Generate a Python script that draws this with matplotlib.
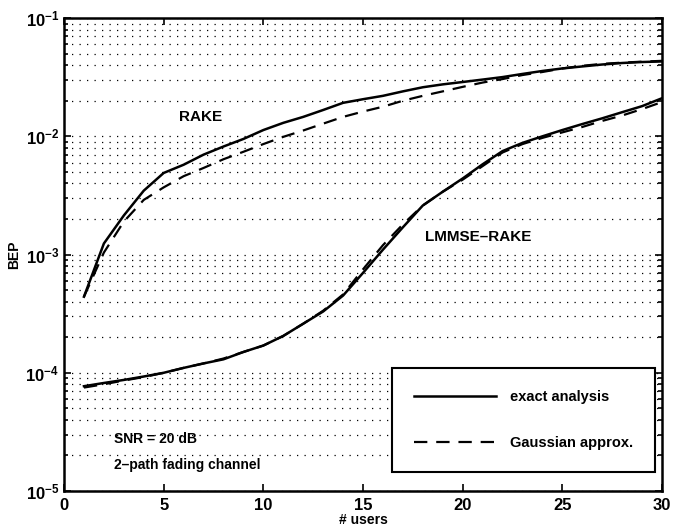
import numpy as np
import matplotlib
matplotlib.use('Agg')
from matplotlib import pyplot as plt
from matplotlib.ticker import LogLocator, MultipleLocator, NullFormatter

users = np.arange(1, 31)

# BEP, RAKE receiver
rake_exact = [4.4e-4, 1.24e-3, 2.14e-3, 3.47e-3, 4.9e-3, 5.75e-3, 7.0e-3, 8.2e-3, 9.5e-3, 1.13e-2,
              1.3e-2, 1.46e-2, 1.67e-2, 1.92e-2, 2.06e-2, 2.2e-2, 2.4e-2, 2.6e-2, 2.75e-2, 2.88e-2,
              3.02e-2, 3.17e-2, 3.37e-2, 3.57e-2, 3.75e-2, 3.9e-2, 4.05e-2, 4.17e-2, 4.25e-2, 4.3e-2]
rake_gauss = [4.4e-4, 1.04e-3, 1.9e-3, 2.9e-3, 3.7e-3, 4.6e-3, 5.4e-3, 6.4e-3, 7.4e-3, 8.6e-3,
              9.9e-3, 1.12e-2, 1.28e-2, 1.46e-2, 1.62e-2, 1.78e-2, 2.0e-2, 2.2e-2, 2.4e-2, 2.62e-2,
              2.85e-2, 3.05e-2, 3.3e-2, 3.5e-2, 3.75e-2, 3.95e-2, 4.1e-2, 4.2e-2, 4.28e-2, 4.35e-2]

# LMMSE-RAKE receiver
lmmse_exact = [7.7e-5, 8.2e-5, 8.7e-5, 9.3e-5, 1.0e-4, 1.1e-4, 1.2e-4, 1.3e-4, 1.5e-4, 1.7e-4,
               2.05e-4, 2.6e-4, 3.3e-4, 4.5e-4, 7.0e-4, 1.1e-3, 1.7e-3, 2.6e-3, 3.4e-3, 4.4e-3,
               5.8e-3, 7.5e-3, 8.8e-3, 1.0e-2, 1.13e-2, 1.27e-2, 1.42e-2, 1.6e-2, 1.8e-2, 2.1e-2]
lmmse_gauss = [7.5e-5, 8.0e-5, 8.6e-5, 9.2e-5, 1.0e-4, 1.1e-4, 1.2e-4, 1.32e-4, 1.5e-4, 1.7e-4,
               2.05e-4, 2.6e-4, 3.35e-4, 4.6e-4, 7.5e-4, 1.2e-3, 1.8e-3, 2.6e-3, 3.4e-3, 4.3e-3,
               5.6e-3, 7.3e-3, 8.6e-3, 9.7e-3, 1.08e-2, 1.2e-2, 1.35e-2, 1.5e-2, 1.7e-2, 1.95e-2]

plt.rcParams['font.family'] = ['Liberation Sans', 'DejaVu Sans']
plt.rcParams['font.weight'] = 'bold'
plt.rcParams['mathtext.default'] = 'bf'

fig = plt.figure(figsize=(6.76, 5.29), dpi=100)
ax = fig.add_axes([0.0947, 0.0718, 0.8846, 0.894])

ax.semilogy(users, rake_exact, 'k-', lw=1.8, label='exact analysis')
ax.semilogy(users, rake_gauss, 'k--', lw=1.6, dashes=(6, 4), label='Gaussian approx.')
ax.semilogy(users, lmmse_exact, 'k-', lw=1.8)
ax.semilogy(users, lmmse_gauss, 'k--', lw=1.6, dashes=(6, 4))

ax.set_xlim(0, 30)
ax.set_ylim(1e-5, 1e-1)
ax.xaxis.set_major_locator(MultipleLocator(5))
ax.yaxis.set_major_locator(LogLocator(base=10, numticks=10))
ax.yaxis.set_minor_locator(LogLocator(base=10, subs=np.arange(2, 10), numticks=20))
ax.yaxis.set_minor_formatter(NullFormatter())
ax.grid(True, which='both', axis='y', color='k', lw=0.9, linestyle=(0, (1, 5)))
ax.tick_params(which='both', direction='in', top=True, right=True, labelsize=12, width=1.2)
ax.tick_params(which='major', length=5)
ax.tick_params(which='minor', length=3)
ax.tick_params(axis='x', pad=5)
for s in ax.spines.values():
    s.set_linewidth(1.8)

ax.set_xlabel('# users', fontsize=10, fontweight='bold', labelpad=0)
ax.set_ylabel('BEP', fontsize=10, fontweight='bold', labelpad=3)

ax.text(6.85, 1.45e-2, 'RAKE', fontsize=11, fontweight='bold', ha='center', va='center')
ax.text(20.8, 1.4e-3, 'LMMSE\u2013RAKE', fontsize=11, fontweight='bold', ha='center', va='center')
ax.text(2.5, 2.75e-5, 'SNR = 20 dB', fontsize=10, fontweight='bold', ha='left', va='center')
ax.text(2.5, 1.65e-5, '2\u2013path fading channel', fontsize=10, fontweight='bold', ha='left', va='center')

leg = ax.legend(loc='lower right', bbox_to_anchor=(0.988, 0.04), fancybox=False, framealpha=1,
                edgecolor='k', fontsize=10.5, handlelength=5.6, handletextpad=0.95,
                labelspacing=2.2, borderpad=1.5, borderaxespad=0)
leg.get_frame().set_linewidth(1.5)

fig.savefig('out.png', dpi=100)
